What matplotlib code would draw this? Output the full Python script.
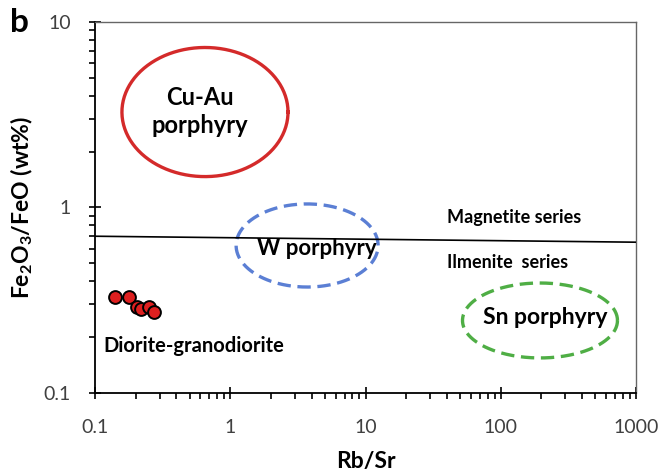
import numpy as np
import matplotlib
matplotlib.use('Agg')
import matplotlib.pyplot as plt
from matplotlib.ticker import FixedLocator, NullFormatter

plt.rcParams['font.family'] = ['Lato', 'DejaVu Sans']

# samples (Rb/Sr, Fe2O3/FeO)
rb_sr = [0.141, 0.179, 0.203, 0.218, 0.252, 0.273]
fe_ratio = [0.331, 0.331, 0.289, 0.285, 0.291, 0.272]

# magnetite / ilmenite boundary
boundary_x = [0.1, 1000]
boundary_y = [0.70, 0.65]

# fields: centre (x, y) and half-widths in decades
field_names = ['Cu-Au\nporphyry', 'W porphyry', 'Sn porphyry']
field_cx = [0.65, 3.7, 195]
field_cy = [3.27, 0.624, 0.246]
field_rx = [0.614, 0.525, 0.573]
field_ry = [0.348, 0.224, 0.202]
field_colors = ['#d42a2a', '#5b7fd4', '#4fae45']
field_styles = ['-', (0, (4, 2)), (0, (4, 2))]

x_ticks = [0.1, 1, 10, 100, 1000]
x_labels = ['0.1', '1', '10', '100', '1000']
y_ticks = [0.1, 1, 10]
y_labels = ['0.1', '1', '10']

fig = plt.figure(figsize=(6.59, 4.74), dpi=100)
ax = fig.add_axes([0.1442, 0.1709, 0.8209, 0.7827])
ax.set_xscale('log')
ax.set_yscale('log')
ax.set_xlim(0.1, 1000)
ax.set_ylim(0.1, 10)

t = np.linspace(0, 2 * np.pi, 300)
for i in range(3):
    ex = 10 ** (np.log10(field_cx[i]) + field_rx[i] * np.cos(t))
    ey = 10 ** (np.log10(field_cy[i]) + field_ry[i] * np.sin(t))
    ax.plot(ex, ey, color=field_colors[i], lw=2.4, ls=field_styles[i], zorder=2)

ax.plot(boundary_x, boundary_y, color='black', lw=1.2, zorder=3)
ax.scatter(rb_sr, fe_ratio, s=85, color='#dd1f1f', edgecolor='black', lw=1.4, zorder=4)

ax.text(0.6, 3.3, field_names[0], ha='center', va='center',
        fontsize=17, fontweight='bold', linespacing=1.25)
ax.text(4.4, 0.60, field_names[1], ha='center', va='center', fontsize=16, fontweight='bold', zorder=5)
ax.text(212, 0.255, field_names[2], ha='center', va='center', fontsize=16.5, fontweight='bold')
ax.text(40, 0.88, 'Magnetite series', ha='left', va='center', fontsize=13, fontweight='bold')
ax.text(40, 0.505, 'Ilmenite  series', ha='left', va='center', fontsize=13, fontweight='bold')
ax.text(0.54, 0.18, 'Diorite-granodiorite', ha='center', va='center', fontsize=14.5, fontweight='bold')

ax.xaxis.set_major_locator(FixedLocator(x_ticks))
ax.set_xticklabels(x_labels)
ax.yaxis.set_major_locator(FixedLocator(y_ticks))
ax.set_yticklabels(y_labels)
ax.xaxis.set_minor_formatter(NullFormatter())
ax.yaxis.set_minor_formatter(NullFormatter())
ax.tick_params(which='major', direction='inout', length=9, width=1.2, labelsize=14,
               labelcolor='#404040')
ax.tick_params(axis='x', which='major', pad=14)
ax.tick_params(axis='y', which='major', pad=13)
ax.tick_params(which='minor', direction='out', length=4, width=1.2)

for s in ['left', 'bottom']:
    ax.spines[s].set_linewidth(1.3)
for s in ['top', 'right']:
    ax.spines[s].set_color('#666666')
    ax.spines[s].set_linewidth(1.0)

ax.set_xlabel('Rb/Sr', fontsize=16.5, fontweight='bold', va='center')
ax.xaxis.set_label_coords(0.5, -0.186)
ax.set_ylabel('Fe$_\\mathregular{2}$O$_\\mathregular{3}$/FeO (wt%)', fontsize=16.5,
              fontweight='bold', va='center')
ax.yaxis.set_label_coords(-0.135, 0.5)
fig.text(0.015, 0.952, 'b', fontsize=24, fontweight='bold', va='center')

fig.savefig('out.png', dpi=100)
